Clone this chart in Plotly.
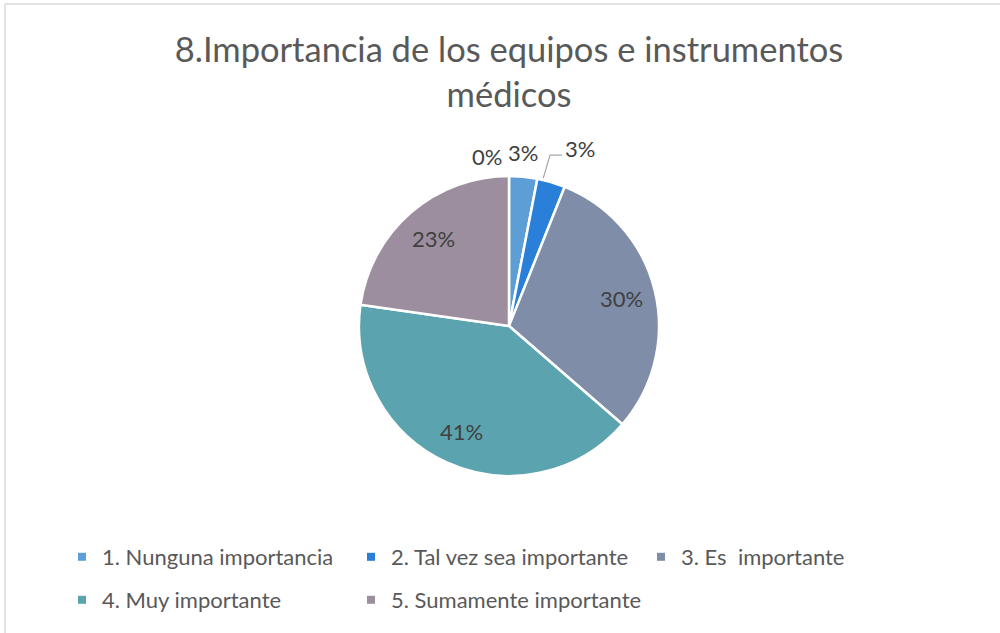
import numpy as np
import plotly.graph_objects as go

title_text = "8.Importancia de los equipos e instrumentos<br>médicos"
categories = ["1. Nunguna importancia", "2. Tal vez sea importante", "3. Es  importante",
              "4. Muy importante", "5. Sumamente importante"]
values = [2, 2, 20, 27, 15]
hidden_category_value = [0]          # unnamed sixth category, shown only as "0%"
colors = ["#5E9ED6", "#2A7FD9", "#7F8DA8", "#5BA3AE", "#9C8E9E"]

# label placement style: (radius factor, x shift px, y shift px)
label_style = [(1.16, -3, 0), (1.16, 22, 11), (0.77, 0, 0), (0.77, 0, 0), (0.77, 0, 0)]
hidden_label_style = (1.16, -22, -5)

# legend entry placement (pixels of the item's left edge, row centre)
legend_pos = [(62, 557), (351, 557), (641, 557), (62, 600), (351, 600)]

W, H = 1000, 633
ML, MR, MT, MB = 18, 0, 176, 157
PW, PH = W - ML - MR, H - MT - MB
R = min(PW, PH) / 2
CX, CY = ML + PW / 2, MT + PH / 2

def px_x(x):
    return (x - ML) / PW

def px_y(y):
    return (H - MB - y) / PH

all_vals = values + hidden_category_value
total = sum(all_vals)
fracs = np.array(all_vals) / total
starts = np.concatenate([[0], np.cumsum(fracs)[:-1]])
mids = (starts + fracs / 2) * 2 * np.pi   # clockwise from 12 o'clock

def polar(angle, r):
    return CX + r * np.sin(angle), CY - r * np.cos(angle)

fig = go.Figure()
fig.add_trace(go.Pie(
    labels=categories, values=values, sort=False, direction="clockwise", rotation=0,
    marker=dict(colors=colors, line=dict(color="white", width=2.5)),
    textinfo="none", showlegend=False, hoverinfo="label+percent",
))

legend_layouts = {}
for i, (cat, col) in enumerate(zip(categories, colors)):
    lname = "legend" if i == 0 else f"legend{i + 1}"
    fig.add_trace(go.Scatter(
        x=[None], y=[None], mode="markers", name=cat,
        marker=dict(symbol="square", size=8, color=col),
        legend=lname, showlegend=True,
    ))
    lx, ly = legend_pos[i]
    legend_layouts[lname] = dict(
        orientation="h", xanchor="left", yanchor="middle",
        x=px_x(lx), y=px_y(ly),
        font=dict(family="Lato", size=22, color="#595959"),
        bgcolor="rgba(0,0,0,0)", itemclick=False, itemdoubleclick=False)

annotations = []
label_px = []
styles = label_style + [hidden_label_style]
for i, (f, ang) in enumerate(zip(fracs, mids)):
    rf, xs, ys = styles[i]
    x, y = polar(ang, rf * R)
    label_px.append((x + xs, y - ys))
    annotations.append(dict(
        text=f"{f:.0%}", x=px_x(x), y=px_y(y), xref="paper", yref="paper",
        xanchor="center", yanchor="middle",
        xshift=xs, yshift=ys, showarrow=False,
        font=dict(family="Lato", size=22, color="#404040")))

# leader line for the second slice
sx, sy = polar(mids[1], R)
tx, ty = label_px[1]
leader = dict(type="path", xref="paper", yref="paper",
              path=(f"M {px_x(sx - 8)} {px_y(sy - 4)} L {px_x(tx - 30)} {px_y(ty + 7)} "
                    f"L {px_x(tx - 18)} {px_y(ty + 7)}"),
              line=dict(color="#A6A6A6", width=1.2))

fig.update_layout(
    width=W, height=H,
    margin=dict(l=ML, r=MR, t=MT, b=MB, autoexpand=False),
    paper_bgcolor="white", plot_bgcolor="white",
    title=dict(text=title_text, x=0.509, xanchor="center", yref="container",
               y=1 - 62 / H, yanchor="top",
               font=dict(family="Lato", size=34.5, color="#595959")),
    xaxis=dict(visible=False), yaxis=dict(visible=False),
    annotations=annotations,
    shapes=[
        leader,
        dict(type="line", xref="paper", yref="paper", x0=px_x(5), x1=px_x(1000),
             y0=px_y(4), y1=px_y(4), line=dict(color="#D9D9D9", width=1.5)),
        dict(type="line", xref="paper", yref="paper", x0=px_x(5), x1=px_x(5),
             y0=px_y(4), y1=px_y(633), line=dict(color="#D9D9D9", width=1.5)),
    ],
    **legend_layouts,
)

fig.write_html("out.html", config={"displayModeBar": False},
               post_script="document.body.style.margin='0px';")
